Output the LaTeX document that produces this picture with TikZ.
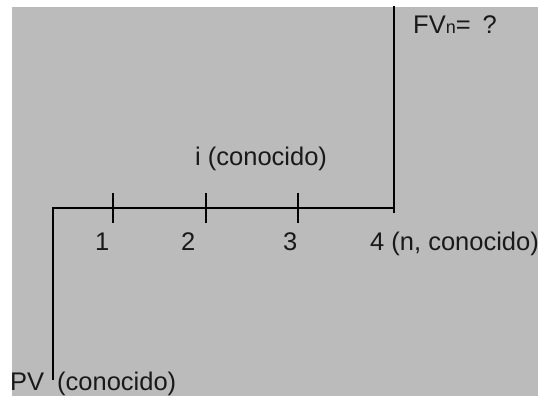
\documentclass[tikz,border=0pt]{standalone}
\usepackage{fontspec}
\setmainfont{Liberation Sans}
\definecolor{bggray}{RGB}{187,187,187}
\definecolor{txt}{RGB}{25,25,25}
\tikzset{
  lbl/.style={inner sep=0pt, anchor=base west, text=txt, font=\fontsize{25.5bp}{30bp}\selectfont},
  axis/.style={line width=1.6bp, black, line cap=rect},
}
\begin{document}
\begin{tikzpicture}[x=1bp,y=-1bp]
\useasboundingbox (0,0) rectangle (538,396);
\fill[white] (0,0) rectangle (538,396);
\fill[bggray] (12,7) rectangle (538,396);
% key points
\coordinate (O) at (53,208);
\coordinate (E) at (393,208);
\coordinate (B) at (53,379);
\coordinate (T) at (394,7);
\coordinate (R) at (394,212);
\coordinate (t1a) at (113,194); \coordinate (t1b) at (113,222);
\coordinate (t2a) at (206,194); \coordinate (t2b) at (206,222);
\coordinate (t3a) at (298,194); \coordinate (t3b) at (298,222);
% lines
\draw[axis] (B) -- (O) -- (E);
\draw[axis] (T) -- (R);
\draw[axis] (t1a) -- (t1b);
\draw[axis] (t2a) -- (t2b);
\draw[axis] (t3a) -- (t3b);
% labels
\node[lbl] (fv) at (413,33) {FV{\fontsize{18bp}{18bp}\selectfont n}=\hspace{12bp}?};
\node[lbl] (i) at (195,165) {i (conocido)};
\node[lbl] (n1) at (95,250) {1};
\node[lbl] (n2) at (181,250) {2};
\node[lbl] (n3) at (283,250) {3};
\node[lbl] (n4) at (370,250) {4 (n, conocido)};
\node[lbl] (pv) at (10,390) {PV};
\node[lbl] (pvk) at (57,390) {(conocido)};
\end{tikzpicture}
\end{document}
